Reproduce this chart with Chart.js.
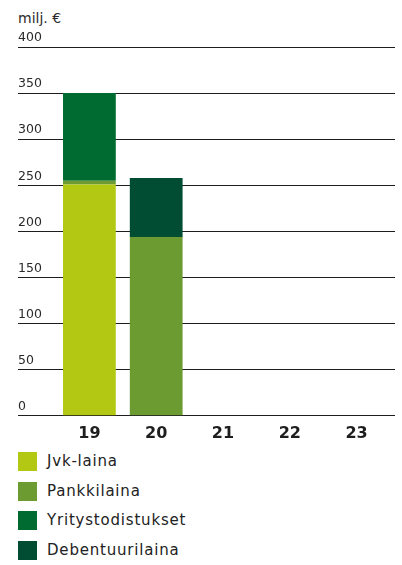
<!DOCTYPE html>
<html>
<head>
<meta charset="utf-8">
<script src="https://cdn.jsdelivr.net/npm/chart.js@4/dist/chart.umd.min.js"></script>
<style>
  html, body { margin: 0; padding: 0; background: #fff; }
  body { width: 402px; height: 565px; position: relative; overflow: hidden; font-family: "DejaVu Sans", sans-serif; }
  #wrap { position: absolute; left: 0; top: 0; width: 402px; height: 448px; }
  #title { position: absolute; left: 18px; top: 10px; font-size: 14px; line-height: 16px; color: #2a2a2a; }
  .lg { position: absolute; left: 18px; height: 19px; display: flex; align-items: center; }
  .lg .sw { width: 19px; height: 19px; margin-right: 10px; }
  .lg .tx { font-size: 15px; color: #222; letter-spacing: 0.8px; line-height: 19px; }
</style>
</head>
<body>
<div id="title">milj. €</div>
<div id="wrap"><canvas id="c"></canvas></div>
<div id="legend"></div>
<script>
const categories = ['19', '20', '21', '22', '23'];
const jvkLaina = [251, null, null, null, null];
const pankkiLaina = [4, 194, null, null, null];
const yritystodistukset = [95, null, null, null, null];
const debentuuriLaina = [null, 64, null, null, null];
const seriesNames = ['Jvk-laina', 'Pankkilaina', 'Yritystodistukset', 'Debentuurilaina'];
const seriesColors = ['#b3c813', '#6c9c31', '#006b30', '#004d33'];
const yTicks = [0, 50, 100, 150, 200, 250, 300, 350, 400];

const seriesData = [jvkLaina, pankkiLaina, yritystodistukset, debentuuriLaina];

const datasets = seriesData.map((d, i) => ({
  label: seriesNames[i],
  data: d,
  backgroundColor: seriesColors[i],
  borderWidth: 0,
  barPercentage: 0.79,
  categoryPercentage: 1.0
}));

const gridColor = '#1e1e1e';

new Chart(document.getElementById('c'), {
  type: 'bar',
  data: { labels: categories, datasets },
  options: {
    responsive: true,
    maintainAspectRatio: false,
    animation: false,
    layout: { padding: { left: 18, right: 7, top: 47, bottom: 5 } },
    plugins: { legend: { display: false }, tooltip: { enabled: false }, title: { display: false } },
    scales: {
      x: {
        stacked: true,
        grid: { display: false },
        border: { display: false },
        ticks: { color: '#1e1e1e', font: { family: 'DejaVu Sans', size: 16, weight: 'bold' }, padding: 0 }
      },
      y: {
        stacked: true,
        position: 'left',
        min: 0, max: 400,
        afterBuildTicks: (s) => { s.ticks = yTicks.map(v => ({ value: v })); },
        afterFit: (s) => { s.width = 38; },
        grid: { color: gridColor, lineWidth: 1, drawTicks: true, tickLength: 38, tickColor: gridColor },
        border: { display: false },
        ticks: { crossAlign: 'far', padding: 0, labelOffset: -9, color: '#2a2a2a', font: { family: 'DejaVu Sans', size: 12.5 } }
      },
      y2: {
        position: 'right',
        min: 0, max: 400,
        afterBuildTicks: (s) => { s.ticks = yTicks.map(v => ({ value: v })); },
        afterFit: (s) => { s.width = 5; },
        grid: { drawOnChartArea: false, drawTicks: true, tickLength: 5, tickColor: gridColor, color: gridColor },
        border: { display: false },
        ticks: { display: false }
      }
    }
  }
});

const legend = document.getElementById('legend');
seriesNames.forEach((n, i) => {
  const row = document.createElement('div');
  row.className = 'lg';
  row.style.top = (452 + i * 29.7) + 'px';
  row.innerHTML = '<div class="sw" style="background:' + seriesColors[i] + '"></div><div class="tx">' + n + '</div>';
  legend.appendChild(row);
});
</script>
</body>
</html>
